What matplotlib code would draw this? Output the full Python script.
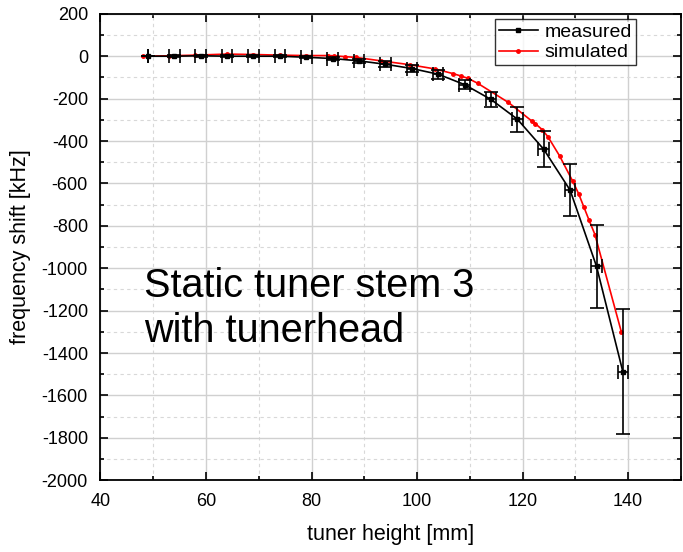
import matplotlib
matplotlib.use("Agg")
import matplotlib.pyplot as plt
from matplotlib.ticker import MultipleLocator
from matplotlib.lines import Line2D

plt.rcParams['font.family'] = ['Liberation Sans', 'DejaVu Sans']
plt.rcParams['axes.unicode_minus'] = False

# measured data
meas_x = [49, 54, 59, 64, 69, 74, 79, 84, 89, 94, 99, 104, 109, 114, 119, 124, 129, 134, 139]
meas_y = [0, 0, 2, 0, 0, 0, -5, -11, -22, -38, -58, -85, -134, -204, -297, -439, -632, -991, -1489]
meas_xerr = [0, 1, 1, 1, 1, 1, 1, 1, 1, 1, 1, 1, 1, 1, 1, 1, 1, 1, 1]
meas_yerr = [0, 5, 5, 5, 5, 5, 5, 8, 10, 14, 18, 21, 22, 37, 59, 85, 124, 195, 295]

# simulated data
sim_x = [48, 53, 58, 64, 69, 74, 79, 83.2, 84.2, 86.3, 88.5, 93.2, 98.6, 103.4, 106.8,
         108.4, 109.7, 111.5, 117.3, 121.7, 122.4, 123.7, 124.8, 127.0, 129.5, 130.6,
         131.6, 132.6, 133.7, 138.7]
sim_y = [0, 2, 5, 10, 8, 5, 3, 3, 2, -2, -6, -22, -40, -60, -82,
         -94, -105, -128, -218, -305, -318, -346, -380, -470, -590, -648,
         -711, -774, -841, -1300]

annotation = ['Static tuner stem 3', 'with tunerhead']

fig = plt.figure(figsize=(6.83, 5.52), dpi=100)
ax = fig.add_axes([0.147, 0.130, 0.850, 0.845])

ax.grid(True, which='major', color='#d0d0d0', linewidth=1.0, linestyle='-')
ax.grid(True, which='minor', color='#d8d8d8', linewidth=0.8, linestyle=(0, (3, 3)))
ax.set_axisbelow(True)

ax.plot(sim_x, sim_y, color='red', marker='o', markersize=2.5, linewidth=1.2,
        label='simulated', zorder=3)
ax.errorbar(meas_x, meas_y, xerr=meas_xerr, yerr=meas_yerr, color='black',
            marker='s', markersize=2.5, linewidth=1.2, elinewidth=1.2,
            capsize=5, capthick=1.2, label='measured', zorder=4)

ax.set_xlim(40, 150)
ax.set_ylim(-2000, 200)
ax.xaxis.set_major_locator(MultipleLocator(20))
ax.xaxis.set_minor_locator(MultipleLocator(10))
ax.yaxis.set_major_locator(MultipleLocator(200))
ax.yaxis.set_minor_locator(MultipleLocator(100))
ax.tick_params(which='both', direction='in', top=True, right=True, labelsize=13,
               width=1.2)
ax.tick_params(which='major', length=6)
ax.tick_params(which='minor', length=3)
ax.tick_params(axis='x', which='both', pad=9)
ax.tick_params(axis='y', which='both', pad=9)
for s in ax.spines.values():
    s.set_linewidth(1.3)

ax.set_xlabel('tuner height [mm]', fontsize=15.5, labelpad=10)
ax.set_ylabel('frequency shift [kHz]', fontsize=15.5, labelpad=8)

h_meas = Line2D([], [], color='black', marker='s', markersize=2.5, linewidth=1.2)
h_sim = Line2D([], [], color='red', marker='o', markersize=2.5, linewidth=1.2)
leg = ax.legend([h_meas, h_sim], ['measured', 'simulated'], loc='upper right',
                bbox_to_anchor=(0.922, 0.988), fontsize=14, frameon=True,
                fancybox=False, edgecolor='black', handlelength=2.0,
                borderpad=0.2, labelspacing=0.15, handletextpad=0.35,
                borderaxespad=0)
leg.get_frame().set_linewidth(1.0)

ax.text(48.2, -1137, annotation[0], fontsize=28.5, ha='left', va='baseline')
ax.text(48.2, -1349, annotation[1], fontsize=28.5, ha='left', va='baseline')

fig.savefig('out.png', dpi=100)
